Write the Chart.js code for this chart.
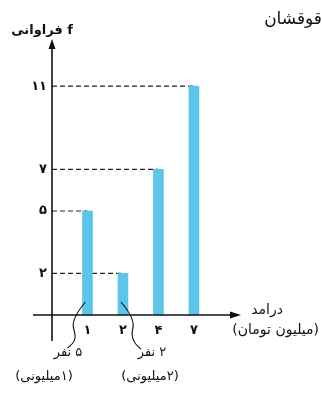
<!DOCTYPE html>
<html>
<head>
<meta charset="utf-8">
<script src="https://cdn.jsdelivr.net/npm/chart.js@4/dist/chart.umd.min.js"></script>
<style>
  html, body { margin: 0; padding: 0; background: #fff; }
  #wrap { width: 322px; height: 398px; position: relative; }
</style>
</head>
<body>
<div id="wrap"><canvas id="myChart"></canvas></div>
<script>
// درآمد (میلیون تومان) و فراوانی
const categories = ['۱', '۲', '۴', '۷'];
const freq = [5, 2, 7, 11];
const yTickValues = [2, 5, 7, 11];
const yTickLabels = ['۲', '۵', '۷', '۱۱'];

const FONT = "'DejaVu Sans', 'Noto Sans', sans-serif";
const barColor = 'rgb(92, 197, 234)';

// خط چین ها از محور تا سر میله
var dashSets = freq.map(function (v, i) {
    return {
        type: 'line',
        data: [{ x: 0, y: v }, { x: i + 1, y: v }],
        borderColor: '#222',
        borderWidth: 1.2,
        borderDash: [5, 3],
        pointRadius: 0,
        order: 2
    };
});

var extras = {
    id: 'extras',
    afterDraw: function (chart) {
        var ctx = chart.ctx;
        var xs = chart.scales.x, ys = chart.scales.y;
        var x0 = xs.getPixelForValue(0), y0 = ys.getPixelForValue(0);
        var top = chart.chartArea.top, right = chart.chartArea.right;
        ctx.save();
        ctx.strokeStyle = '#111';
        ctx.fillStyle = '#111';
        ctx.lineWidth = 1.6;
        // محور عمودی
        ctx.beginPath();
        ctx.moveTo(x0, y0 + 26);
        ctx.lineTo(x0, top + 6);
        ctx.stroke();
        ctx.beginPath();
        ctx.moveTo(x0, top - 1);
        ctx.lineTo(x0 - 3.5, top + 9);
        ctx.lineTo(x0 + 3.5, top + 9);
        ctx.closePath();
        ctx.fill();
        // محور افقی
        ctx.beginPath();
        ctx.moveTo(x0 - 19, y0);
        ctx.lineTo(right - 5, y0);
        ctx.stroke();
        ctx.beginPath();
        ctx.moveTo(right + 2, y0);
        ctx.lineTo(right - 9, y0 - 3.5);
        ctx.lineTo(right - 9, y0 + 3.5);
        ctx.closePath();
        ctx.fill();

        // خطوط منحنی زیر میله ها
        var b1 = xs.getPixelForValue(1), b2 = xs.getPixelForValue(2);
        ctx.lineWidth = 1.1;
        ctx.beginPath();
        ctx.moveTo(b1 - 2, y0 - 13);
        ctx.bezierCurveTo(b1 - 8, y0 - 6, b1 - 16, y0 + 4, b1 - 14, y0 + 13);
        ctx.bezierCurveTo(b1 - 12, y0 + 20, b1 - 10, y0 + 26, b1 - 20, y0 + 33);
        ctx.stroke();
        ctx.beginPath();
        ctx.moveTo(b2 - 2, y0 - 13);
        ctx.bezierCurveTo(b2 + 4, y0 - 6, b2 + 12, y0 + 4, b2 + 10, y0 + 13);
        ctx.bezierCurveTo(b2 + 8, y0 + 20, b2 + 10, y0 + 28, b2 + 18, y0 + 34);
        ctx.stroke();

        // متن ها
        ctx.direction = 'ltr';
        ctx.textBaseline = 'middle';
        ctx.font = 'bold 13px ' + FONT;
        ctx.textAlign = 'right';
        ctx.fillText('فراوانی f', 73, 31);

        ctx.direction = 'rtl';
        ctx.font = '17px ' + FONT;
        ctx.textAlign = 'right';
        ctx.fillText('قوقشان', 322, 20);

        ctx.font = '14px ' + FONT;
        ctx.fillText('درامد', 283, 310);
        ctx.fillText('(میلیون تومان)', 319, 330);

        ctx.font = '13px ' + FONT;
        ctx.textAlign = 'center';
        ctx.fillText('۵ نفر', 68, 353);
        ctx.fillText('(۱میلیونی)', 44, 377);
        ctx.fillText('۲ نفر', 152, 353);
        ctx.fillText('(۲میلیونی)', 150, 377);
        ctx.restore();
    }
};

var ctx1 = document.getElementById('myChart');
var myChart = new Chart(ctx1, {
    data: {
        datasets: [{
            type: 'bar',
            data: freq.map(function (v, i) { return { x: i + 1, y: v }; }),
            backgroundColor: barColor,
            barThickness: 10,
            order: 1
        }].concat(dashSets)
    },
    options: {
        responsive: true,
        maintainAspectRatio: false,
        animation: false,
        layout: { padding: { left: 0, top: 40, right: 83, bottom: 0 } },
        plugins: { legend: { display: false }, tooltip: { enabled: false } },
        scales: {
            x: {
                type: 'linear',
                min: 0,
                max: 5.27,
                offset: false,
                grid: { display: false, drawTicks: false },
                border: { display: false },
                afterBuildTicks: function (s) {
                    s.ticks = categories.map(function (c, i) { return { value: i + 1 }; });
                },
                afterFit: function (s) { s.height = 83; },
                ticks: {
                    padding: 8,
                    color: '#111',
                    font: { family: FONT, size: 13, weight: 'bold' },
                    maxRotation: 0,
                    callback: function (v) { return categories[v - 1]; }
                }
            },
            y: {
                min: 0,
                max: 13.22,
                grid: { display: false, drawTicks: false },
                border: { display: false },
                afterBuildTicks: function (s) {
                    s.ticks = yTickValues.map(function (v) { return { value: v }; });
                },
                afterFit: function (s) { s.width = 52; },
                ticks: {
                    padding: 5,
                    color: '#111',
                    font: { family: FONT, size: 13, weight: 'bold' },
                    callback: function (v) { return yTickLabels[yTickValues.indexOf(v)]; }
                }
            }
        }
    },
    plugins: [extras]
});
</script>
</body>
</html>
